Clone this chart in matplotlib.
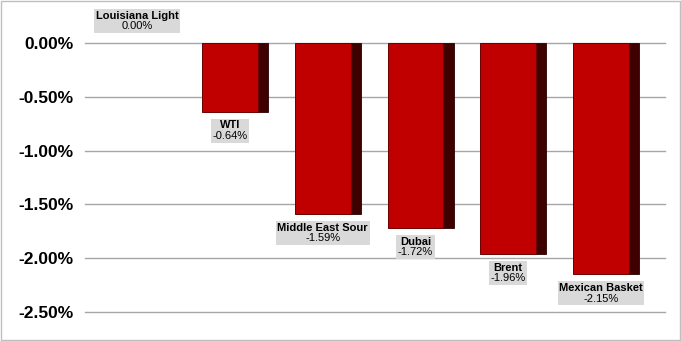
import matplotlib.pyplot as plt
from matplotlib.transforms import Bbox
import numpy as np

plt.rcParams['font.family'] = ['Liberation Sans', 'DejaVu Sans']

# crude grades and their change
grades = ["Louisiana Light", "WTI", "Middle East Sour", "Dubai", "Brent", "Mexican Basket"]
changes = [0.00, -0.64, -1.59, -1.72, -1.96, -2.15]   # percent

yticks = [0.0, -0.5, -1.0, -1.5, -2.0, -2.5]

x = np.arange(len(grades))
face_w = 0.6
side_w = 0.11

fig = plt.figure(figsize=(6.81, 3.41), dpi=100)
ax = fig.add_axes([0.1248, 0.085, 0.8517, 0.789])

# grid lines behind the bars
for t in yticks:
    ax.axhline(t, color='#a6a6a6', linewidth=1, zorder=0, clip_on=False)

# only real bars get drawn (the zero one has no height)
nz = [i for i, v in enumerate(changes) if v != 0]
vals = np.array(changes)[nz]
xs = x[nz]

# dark side of each bar, then the red front face
ax.bar(xs + face_w/2 + side_w/2, vals, side_w, color='#3f0000', edgecolor='#2a0000', linewidth=0.6, zorder=2)
ax.bar(xs, vals, face_w, color='#c00000', edgecolor='#6a0000', linewidth=0.7, zorder=3)

# data labels: bold name over the value, both on one grey box
pairs = []
for i, (g, v) in enumerate(zip(grades, changes)):
    if v == 0:
        top = v + 0.3
    else:
        top = v - 0.08
    t1 = ax.text(x[i], top, g, ha='center', va='top', fontsize=8, fontweight='bold', zorder=5)
    t2 = ax.text(x[i], top - 0.1, f"{v:.2f}%", ha='center', va='top', fontsize=8, zorder=5)
    pairs.append((t1, t2))

ax.set_xlim(-0.563, 5.69)
ax.set_ylim(-2.5, 0.0)
ax.set_xticks([])
ax.set_yticks(yticks)
ax.set_yticklabels([f"{t:.2f}%" for t in yticks], fontsize=12.5, fontweight='bold')
ax.tick_params(axis='y', length=0, pad=8.5)
for s in ax.spines.values():
    s.set_visible(False)

fig.canvas.draw()
r = fig.canvas.get_renderer()
for t1, t2 in pairs:
    bb = Bbox.union([t1.get_window_extent(r), t2.get_window_extent(r)])
    bb = bb.padded(1.5)
    fb = bb.transformed(fig.transFigure.inverted())
    fig.patches.append(plt.Rectangle((fb.x0, fb.y0), fb.width, fb.height, transform=fig.transFigure,
                                     facecolor='#d9d9d9', edgecolor='none', zorder=4))
    # texts must sit above the figure-level boxes
    for t in (t1, t2):
        t.remove()
        fig.texts.append(t)
        t.set_figure(fig)

# light frame round the whole picture
fig.patches.append(plt.Rectangle((0.002, 0.003), 0.996, 0.994, transform=fig.transFigure,
                                 fill=False, edgecolor='#bfbfbf', linewidth=1))

fig.savefig('out.png', dpi=100)
